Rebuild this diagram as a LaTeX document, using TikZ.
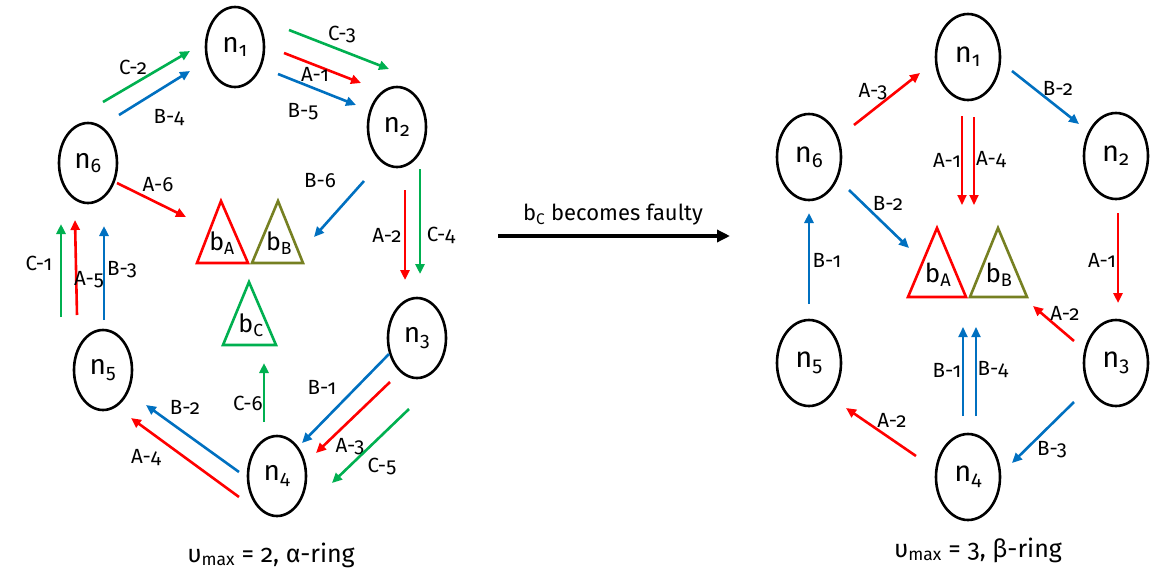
\documentclass[tikz,border=0pt]{standalone}
\usepackage{fontspec}
\setmainfont{Fira Sans}[Numbers=OldStyle]
\usetikzlibrary{arrows.meta,shapes.geometric}
\definecolor{cred}{RGB}{255,0,0}
\definecolor{cgreen}{RGB}{0,176,80}
\definecolor{cblue}{RGB}{0,112,192}
\definecolor{colive}{RGB}{118,128,34}

% one message arrow: #1 name, #2 style, #3 start, #4 end, #5 label position, #6 label
\newcommand\msgarrow[6]{%
  \coordinate (#1-s) at (#3);
  \coordinate (#1-e) at (#4);
  \draw[msg,#2] (#1-s) -- (#1-e);
  \node[lbl] (#1-l) at (#5) {#6};}

% a buffer triangle: #1 name, #2 colour, #3 apex, #4 base left, #5 base right, #6 label pos, #7 label, #8 font size
\newcommand\buffertri[8]{%
  \coordinate (#1-t) at (#3);
  \coordinate (#1-l) at (#4);
  \coordinate (#1-r) at (#5);
  \draw[#2, line width=2.6pt, line join=miter] (#1-t) -- (#1-l) -- (#1-r) -- cycle;
  \node[inner sep=0pt, font=\fontsize{#8}{#8}\selectfont] (#1) at (#6) {#7};}

\begin{document}
\begin{tikzpicture}[x=1pt, y=-1pt,
  procL/.style={draw, ellipse, line width=2.6pt, minimum width=58pt, minimum height=80pt,
                inner sep=0pt, font=\fontsize{28}{28}\selectfont},
  procR/.style={procL, minimum width=64pt, minimum height=86pt, font=\fontsize{29}{29}\selectfont},
  msg/.style={line width=2.6pt, -{Triangle[length=10pt,width=9pt]}},
  thin msg/.style={line width=2pt},
  ared/.style={cred}, agreen/.style={cgreen}, ablue/.style={cblue},
  lbl/.style={inner sep=0pt, font=\fontsize{20.5}{20.5}\selectfont},
  caption/.style={inner sep=0pt, font=\fontsize{25}{25}\selectfont}]

\useasboundingbox (0,0) rectangle (1163,579);

% ---------------- alpha ring ----------------
\node[procL] (L1) at (235,47)  {n\textsubscript{1}};
\node[procL] (L2) at (397,127) {n\textsubscript{2}};
\node[procL] (L3) at (417,338) {n\textsubscript{3}};
\node[procL] (L4) at (277,476) {n\textsubscript{4}};
\node[procL] (L5) at (103,370) {n\textsubscript{5}};
\node[procL] (L6) at (88,163)  {n\textsubscript{6}};

\buffertri{LbA}{cred}{221,201}{197,263}{248,263}{222,243}{b\textsubscript{A}}{25}
\buffertri{LbB}{colive}{278,201}{252,263}{303,263}{279,243}{b\textsubscript{B}}{25}
\buffertri{LbC}{cgreen}{249,282}{223,345}{276,345}{251,325}{b\textsubscript{C}}{25}

\msgarrow{Lc2}{agreen}{103,102}{190,51}{133,67}{C-2}
\msgarrow{Lb4}{ablue}{119,115}{190,71}{169,118}{B-4}
\msgarrow{Lc3}{agreen}{289,30}{389,69}{342,35}{C-3}
\msgarrow{La1}{ared}{284,53}{361,83}{315,74}{A-1}
\msgarrow{Lb5}{ablue}{278,74}{356,105}{303,112}{B-5}
\msgarrow{La6}{ared}{117,183}{186,217}{158,185}{A-6}
\msgarrow{Lb6}{ablue}{364,181}{314,237}{320,181}{B-6}
\msgarrow{La2}{ared}{405,190}{405,280}{387,235}{A-2}
\msgarrow{Lc4}{agreen}{420,169}{420,274}{441,235}{C-4}
\msgarrow{Lc1}{agreen}{61,317}{61,224}{39,263}{C-1}
\msgarrow{La5}{ared}{77,315}{75,220}{89,280}{A-5}
\msgarrow{Lb3}{ablue}{104,320}{104,226}{122,270}{B-3}
\msgarrow{Lc6}{agreen}{264,422}{264,363}{248,403}{C-6}
\msgarrow{Lb1}{ablue}{389,354}{302,443}{322,387}{B-1}
\msgarrow{La3}{ared}{390,382}{316,453}{350,447}{A-3}
\msgarrow{Lc5}{agreen}{409,409}{332,483}{382,467}{C-5}
\msgarrow{Lb2}{ablue}{239,472}{146,405}{185,407}{B-2}
\msgarrow{La4}{ared}{239,497}{131,418}{146,458}{A-4}

\node[caption] (capL) at (271,555) {υ\textsubscript{max} = 2, α-ring};

% ---------------- transition ----------------
\coordinate (tr-s) at (498,236);
\coordinate (tr-e) at (730,236);
\draw[line width=4pt, -{Triangle[length=13pt,width=12pt]}] (tr-s) -- (tr-e);
\node[inner sep=0pt, font=\fontsize{22}{22}\selectfont] (trl) at (613,215) {b\textsubscript{C} becomes faulty};

% ---------------- beta ring ----------------
\node[procR] (R1) at (968,57)  {n\textsubscript{1}};
\node[procR] (R2) at (1116,156) {n\textsubscript{2}};
\node[procR] (R3) at (1116,363) {n\textsubscript{3}};
\node[procR] (R4) at (968,477) {n\textsubscript{4}};
\node[procR] (R5) at (809,363) {n\textsubscript{5}};
\node[procR] (R6) at (809,157) {n\textsubscript{6}};

\buffertri{RbA}{cred}{937,228}{908,297}{966,297}{938,275}{b\textsubscript{A}}{26}
\buffertri{RbB}{colive}{998,228}{970,297}{1027,297}{999,275}{b\textsubscript{B}}{26}

\msgarrow{Ra3}{ared}{854,125}{920,73}{873,92}{A-3}
\msgarrow{Rb2t}{ablue}{1012,71}{1079,124}{1058,88}{B-2}
\msgarrow{Ra1}{ared,thin msg}{962,116}{962,205}{947,160}{A-1}
\msgarrow{Ra4}{ared,thin msg}{974,117}{974,205}{991,160}{A-4}
\msgarrow{Rb2m}{ablue}{849,190}{909,248}{888,203}{B-2}
\msgarrow{Rb1l}{ablue}{809,304}{809,213}{827,260}{B-1}
\msgarrow{Ra1r}{ared}{1118,213}{1118,303}{1102,260}{A-1}
\msgarrow{Ra2}{ared}{1074,341}{1033,306}{1065,313}{A-2}
\msgarrow{Rb1}{ablue,thin msg}{963,416}{963,327}{947,370}{B-1}
\msgarrow{Rb4}{ablue,thin msg}{976,416}{976,327}{993,370}{B-4}
\msgarrow{Ra2l}{ared}{916,456}{846,408}{892,420}{A-2}
\msgarrow{Rb3}{ablue}{1074,402}{1012,463}{1052,450}{B-3}

\node[caption] (capR) at (978,550) {υ\textsubscript{max} = 3, β-ring};
\end{tikzpicture}
\end{document}
